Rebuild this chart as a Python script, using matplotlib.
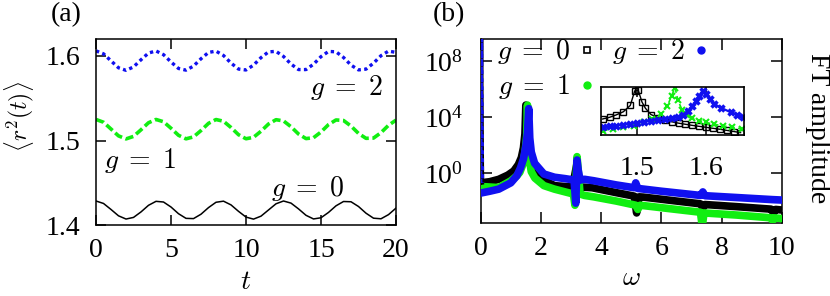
import matplotlib
matplotlib.use("Agg")
import matplotlib.pyplot as plt
from matplotlib.lines import Line2D
from matplotlib.ticker import FixedLocator, NullLocator, FormatStrFormatter
import numpy as np

# ---- panel (a): <r^2(t)> ----
t_vals = [0.0, 0.5, 1.0, 1.5, 2.0, 2.5, 3.0, 3.5, 4.0, 4.5, 5.0, 5.5, 6.0, 6.5,
          7.0, 7.5, 8.0, 8.5, 9.0, 9.5, 10.0, 10.5, 11.0, 11.5, 12.0, 12.5, 13.0,
          13.5, 14.0, 14.5, 15.0, 15.5, 16.0, 16.5, 17.0, 17.5, 18.0, 18.5, 19.0,
          19.5, 20.0]
r2_g0 = [1.4287, 1.4258, 1.4187, 1.4112, 1.4074, 1.4093, 1.4158, 1.4236, 1.4283,
         1.4275, 1.4216, 1.4137, 1.4082, 1.4079, 1.4131, 1.4209, 1.4272, 1.4285,
         1.4241, 1.4165, 1.4097, 1.4073, 1.4108, 1.4181, 1.4254, 1.4287, 1.4262,
         1.4194, 1.4118, 1.4075, 1.4089, 1.4152, 1.4230, 1.4281, 1.4278, 1.4222,
         1.4143, 1.4084, 1.4077, 1.4126, 1.4203]
r2_g1 = [1.5250, 1.5217, 1.5137, 1.5056, 1.5020, 1.5050, 1.5128, 1.5211, 1.5250,
         1.5223, 1.5146, 1.5063, 1.5021, 1.5044, 1.5119, 1.5204, 1.5249, 1.5229,
         1.5155, 1.5070, 1.5022, 1.5039, 1.5111, 1.5196, 1.5247, 1.5233, 1.5164,
         1.5078, 1.5024, 1.5034, 1.5102, 1.5189, 1.5244, 1.5238, 1.5172, 1.5085,
         1.5027, 1.5030, 1.5094, 1.5181, 1.5242]
r2_g2 = [1.6060, 1.6025, 1.5942, 1.5860, 1.5830, 1.5870, 1.5955, 1.6034, 1.6059,
         1.6015, 1.5929, 1.5852, 1.5832, 1.5880, 1.5967, 1.6041, 1.6057, 1.6005,
         1.5916, 1.5845, 1.5834, 1.5891, 1.5980, 1.6048, 1.6054, 1.5994, 1.5904,
         1.5839, 1.5839, 1.5902, 1.5992, 1.6053, 1.6049, 1.5982, 1.5892, 1.5835,
         1.5844, 1.5915, 1.6003, 1.6057, 1.6042]

# ---- panel (b): FT amplitude, log10 values ----
w_g0 = [0.0, 0.3, 0.6, 0.9, 1.1, 1.25, 1.35, 1.42, 1.47, 1.50, 1.53, 1.58, 1.65,
        1.8, 2.0, 2.45, 3.0, 3.12, 3.2, 3.26, 3.35, 3.7, 4.5, 5.1, 5.18, 5.26,
        5.4, 6.5, 7.3, 7.38, 7.45, 8.5, 9.65, 9.72, 9.8, 10.0]
logA_g0 = [-0.7, -0.62, -0.45, -0.15, 0.15, 0.6, 1.1, 1.8, 2.8, 4.85, 2.7, 1.3, 0.6,
           -0.07, -0.4, -0.9, -1.0, -0.2, 0.7, -1.35, -1.0, -1.05, -1.4, -1.65,
           -2.85, -1.7, -1.72, -2.0, -2.2, -2.5, -2.25, -2.4, -2.58, -2.85, -2.6,
           -2.64]
w_g1 = [0.0, 0.3, 0.6, 1.0, 1.2, 1.3, 1.4, 1.48, 1.53, 1.555, 1.58, 1.62, 1.68,
        1.8, 2.1, 2.45, 2.9, 3.08, 3.13, 3.2, 3.24, 3.3, 3.45, 3.75, 4.5, 5.15,
        5.22, 5.3, 6.5, 7.3, 7.36, 7.42, 8.5, 9.65, 9.7, 9.76, 10.0]
logA_g1 = [-0.96, -1.0, -1.04, -0.56, -0.2, 0.05, 0.6, 1.6, 2.7, 4.85, 2.6, 0.9, 0.1,
           -0.36, -0.9, -1.15, -1.4, -1.5, -2.3, 1.17, 0.2, -1.5, -1.6, -1.7, -2.0,
           -2.3, -2.6, -2.3, -2.6, -2.8, -3.8, -2.85, -3.0, -3.2, -3.4, -3.2, -3.25]
w_g2 = [0.0, 0.3, 0.6, 1.0, 1.2, 1.32, 1.42, 1.5, 1.555, 1.595, 1.63, 1.68, 1.79,
        2.1, 2.45, 2.8, 3.1, 3.16, 3.2, 3.24, 3.3, 3.45, 3.75, 4.5, 5.1, 5.15,
        5.22, 6.0, 7.3, 7.38, 7.45, 8.5, 9.7, 10.0]
logA_g2 = [-1.43, -1.3, -1.15, -0.7, -0.2, 0.35, 1.0, 1.9, 2.9, 4.6, 2.5, 1.5, 0.7,
           -0.07, -0.3, -0.4, -0.5, -2.15, 0.93, 0.2, -0.5, -0.45, -0.55, -0.85,
           -1.05, -0.7, -1.1, -1.3, -1.6, -1.35, -1.62, -1.75, -1.9, -1.93]
# the omega = 0 peak
w_spike = [0.0, 0.03, 0.06]
logA_spike = [-0.7, 9.6, -0.7]

# ---- inset: zoom on the main peak ----
w_in_g0 = [1.450, 1.460, 1.470, 1.480, 1.490, 1.4965, 1.5015, 1.507, 1.512, 1.520,
           1.530, 1.540, 1.550, 1.560, 1.570, 1.580, 1.590, 1.600, 1.610, 1.620,
           1.630, 1.640, 1.650]
logA_in_g0 = [2.53, 2.65, 2.83, 3.05, 3.50, 4.55, 4.6, 3.75, 3.3, 2.85, 2.63, 2.46,
              2.33, 2.23, 2.15, 2.07, 2.0, 1.93, 1.86, 1.79, 1.71, 1.63, 1.55]
w_in_g1 = [1.450, 1.465, 1.480, 1.495, 1.510, 1.522, 1.535, 1.544, 1.550, 1.555,
           1.559, 1.565, 1.572, 1.580, 1.590, 1.600, 1.612, 1.625, 1.638, 1.652]
logA_in_g1 = [1.69, 1.8, 1.92, 2.06, 2.3, 2.5, 2.89, 3.48, 4.2, 4.78, 3.9, 3.2, 2.85,
              2.6, 2.42, 2.28, 2.15, 2.03, 1.93, 1.82]
w_in_g2 = [1.450, 1.460, 1.470, 1.480, 1.490, 1.500, 1.510, 1.520, 1.530, 1.540,
           1.550, 1.559, 1.567, 1.574, 1.580, 1.585, 1.590, 1.595, 1.600, 1.605,
           1.612, 1.622, 1.636, 1.645, 1.653]
logA_in_g2 = [1.93, 1.99, 2.06, 2.12, 2.19, 2.26, 2.33, 2.40, 2.47, 2.53, 2.60, 2.68,
              2.85, 3.13, 3.45, 3.8, 4.2, 4.56, 4.35, 3.97, 3.61, 3.32, 3.01, 2.85,
              2.69]

BLUE = "#1010f0"
GREEN = "#11ee11"
FS = 20

plt.rcParams["font.family"] = "serif"
plt.rcParams["font.serif"] = ["Liberation Serif", "DejaVu Serif"]
plt.rcParams["mathtext.fontset"] = "cm"


def amp(vals):
    return 10.0 ** np.asarray(vals)


def style_axes(ax, length=7, xpad=9, ypad=11.5):
    for sp in ax.spines.values():
        sp.set_linewidth(1.1)
    ax.tick_params(which="both", direction="in", top=True, right=True,
                   length=length, width=1.1, labelsize=FS)
    ax.tick_params(axis="x", pad=xpad)
    ax.tick_params(axis="y", pad=ypad)


fig = plt.figure(figsize=(8.3, 2.96), dpi=100)
W, H = 830.0, 296.0

# ---------------- (a) ----------------
ax_a = fig.add_axes([96 / W, 1 - 225.3 / H, 300 / W, 186.3 / H])
ax_a.plot(t_vals, r2_g0, color="black", lw=1.1)
ax_a.plot(t_vals, r2_g1, color=GREEN, lw=2.6, dashes=(2.3, 1.0))
ax_a.plot(t_vals, r2_g2, color=BLUE, lw=2.4, dashes=(1.0, 1.0))
ax_a.set_xlim(0, 20)
ax_a.set_ylim(1.4, 1.62)
ax_a.set_xticks([0, 5, 10, 15, 20])
ax_a.set_yticks([1.4, 1.5, 1.6])
ax_a.yaxis.set_major_formatter(FormatStrFormatter("%.1f"))
style_axes(ax_a)
ax_a.set_xlabel(r"$t$", fontsize=FS, labelpad=5)
ax_a.text(16.67, 1.5627, r"$g\;=\;2$", fontsize=FS, ha="center", va="center")
ax_a.text(2.93, 1.476, r"$g\;=\;1$", fontsize=FS, ha="center", va="center")
ax_a.text(14.07, 1.4429, r"$g\;=\;0$", fontsize=FS, ha="center", va="center")

# ---------------- (b) ----------------
ax_b = fig.add_axes([480.7 / W, 1 - 223.3 / H, 301 / W, 184.3 / H])
ax_b.plot(w_g0, amp(logA_g0), color="black", lw=5.5, solid_joinstyle="round", zorder=2)
ax_b.plot(w_g1, amp(logA_g1), color=GREEN, lw=5.5, solid_joinstyle="round", zorder=3)
ax_b.plot(w_g2, amp(logA_g2), color=BLUE, lw=5.5, solid_joinstyle="round", zorder=4)
ax_b.plot(w_spike, amp(logA_spike), color="black", lw=2.4, zorder=5)
ax_b.plot(w_spike, amp(logA_spike), color=BLUE, lw=2.4, dashes=(1.2, 1.2), zorder=6)
ax_b.set_yscale("log")
ax_b.set_xlim(0, 10)
ax_b.set_ylim(10 ** -3.59, 10 ** 9.57)
ax_b.set_xticks([0, 2, 4, 6, 8, 10])
ax_b.yaxis.set_major_locator(FixedLocator([1.0, 1e4, 1e8]))
ax_b.yaxis.set_minor_locator(NullLocator())
style_axes(ax_b, length=8, xpad=9, ypad=12.5)
ax_b.set_xlabel(r"$\omega$", fontsize=FS, labelpad=4)

handles = [
    Line2D([], [], ls="none", marker="s", mfc="none", mec="black", ms=4, mew=1.2),
    Line2D([], [], ls="none", marker="o", color=GREEN, ms=5),
    Line2D([], [], ls="none", marker="o", color=BLUE, ms=5),
]
ax_b.legend(handles, [r"$g\;=\;0$", r"$g\;=\;1$", r"$g\;=\;2$"], ncol=2,
            markerfirst=False, frameon=False, fontsize=20, loc="upper left",
            bbox_to_anchor=(0.0, 1.1), handlelength=0.6, handletextpad=0.3,
            columnspacing=0.6, labelspacing=0.22, borderpad=0.1)

fig.text(817 / W, 1 - 128 / H, "FT amplitude", rotation=270, fontsize=FS,
         ha="center", va="center")

# ---------------- inset ----------------
ax_in = fig.add_axes([601.3 / W, 1 - 134.7 / H, 142.7 / W, 48 / H])
ax_in.plot(w_in_g0, amp(logA_in_g0), color="black", lw=1.0, marker="s", ms=4,
           mfc="none", mew=1.0)
ax_in.plot(w_in_g1, amp(logA_in_g1), color=GREEN, lw=1.2, dashes=(3, 2),
           marker="x", ms=4.5, mew=1.5)
ax_in.plot(w_in_g2, amp(logA_in_g2), color=BLUE, lw=1.6, marker="x", ms=5, mew=2.5)
ax_in.set_yscale("log")
ax_in.set_xlim(1.448, 1.655)
ax_in.set_ylim(10 ** 1.4, 10 ** 4.85)
ax_in.set_xticks([1.5, 1.6])
ax_in.yaxis.set_major_locator(NullLocator())
ax_in.yaxis.set_minor_locator(NullLocator())
for sp in ax_in.spines.values():
    sp.set_linewidth(1.2)
ax_in.tick_params(axis="x", direction="in", top=True, length=7, width=1.1,
                  labelsize=FS, pad=15)

# ---------------- labels ----------------
fig.text(19 / W, 1 - 117 / H, r"$\langle r^2(t)\rangle$", rotation=90,
         fontsize=17, ha="center", va="center")
fig.text(66 / W, 1 - 15 / H, "(a)", fontsize=FS, ha="center", va="center")
fig.text(449 / W, 1 - 15 / H, "(b)", fontsize=FS, ha="center", va="center")

fig.savefig("out.png", dpi=100)
plt.close(fig)
